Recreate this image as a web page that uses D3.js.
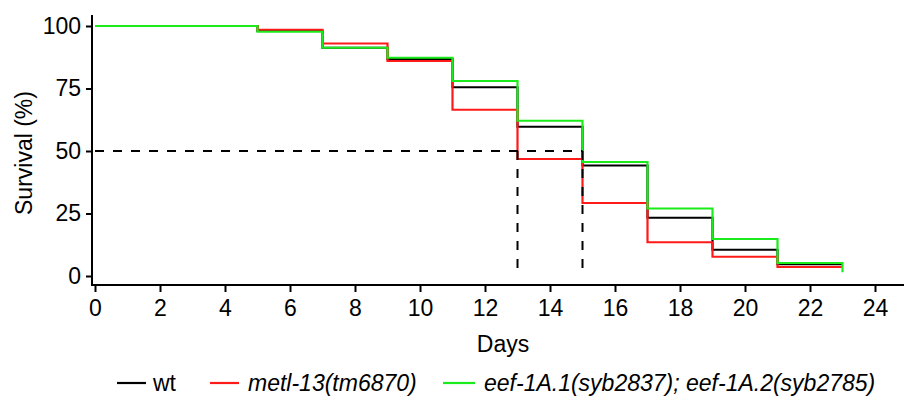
<!DOCTYPE html>
<html>
<head>
<meta charset="utf-8">
<script src="https://cdn.jsdelivr.net/npm/d3@7"></script>
<style>
  body { margin: 0; background: #fff; }
  svg { display: block; font-family: "Liberation Sans", Arial, sans-serif; }
</style>
</head>
<body>
<svg id="chart" width="904" height="396"></svg>
<script>
// time points (days) where survival changes
var days = [0, 5, 7, 9, 11, 13, 15, 17, 19, 21, 23];
// survival (%) for each interval, last value = value at day 23
var wt   = [100, 98.0, 91.3, 86.8, 75.5, 59.7, 44.2, 23.3, 10.5, 4.7, 4.7];
var metl = [100, 98.5, 93.0, 86.0, 66.5, 46.8, 29.2, 13.5, 7.7, 3.6, 3.6];
var eef  = [100, 97.7, 91.3, 87.3, 78.0, 62.1, 45.6, 27.0, 14.8, 5.2, 1.5];

var seriesNames  = ["wt", "metl-13(tm6870)", "eef-1A.1(syb2837); eef-1A.2(syb2785)"];
var seriesColors = ["#000000", "#ff1a1a", "#1aeb1a"];
var xTicks = d3.range(0, 25, 2);
var yTicks = [0, 25, 50, 75, 100];
var medianDays = [13, 15];

var drawChart = function(){
    var svg = d3.select("#chart");

    var x = d3.scaleLinear().domain([0, 24]).range([95, 875]);
    var y = d3.scaleLinear().domain([0, 100]).range([276, 26]);

    // axes
    var yAxis = d3.axisLeft(y).tickValues(yTicks).tickSize(6).tickPadding(5);
    var gy = svg.append("g").attr("transform", "translate(92,0)").call(yAxis);
    gy.select(".domain").remove();

    var xAxis = d3.axisBottom(x).tickValues(xTicks).tickSize(7).tickPadding(8);
    var gx = svg.append("g").attr("transform", "translate(0,285)").call(xAxis);
    gx.select(".domain").remove();

    svg.selectAll(".tick line").attr("stroke", "#000").attr("stroke-width", 2);
    svg.selectAll(".tick text")
        .attr("fill", "#000")
        .style("font-size", "23px")
        .style("font-family", "'Liberation Sans', Arial, sans-serif");

    // axis lines
    svg.append("line").attr("x1", 92).attr("x2", 92).attr("y1", 15).attr("y2", 286)
        .attr("stroke", "#000").attr("stroke-width", 2);
    svg.append("line").attr("x1", 91).attr("x2", 904).attr("y1", 285).attr("y2", 285)
        .attr("stroke", "#000").attr("stroke-width", 2);

    // axis titles
    svg.append("text")
        .attr("transform", "translate(32,153) rotate(-90)")
        .attr("text-anchor", "middle")
        .style("font-size", "23px")
        .text("Survival (%)");
    svg.append("text")
        .attr("x", 503).attr("y", 352)
        .attr("text-anchor", "middle")
        .style("font-size", "23px")
        .text("Days");

    // survival curves
    var line = d3.line()
        .x(function(d){ return x(d[0]); })
        .y(function(d){ return y(d[1]); })
        .curve(d3.curveStepAfter);

    [wt, metl, eef].forEach(function(vals, i){
        var pts = days.map(function(d, j){ return [d, vals[j]]; });
        svg.append("path")
            .datum(pts)
            .attr("d", line)
            .attr("fill", "none")
            .attr("stroke", seriesColors[i])
            .attr("stroke-width", 2.2);
    });

    // median lines
    svg.append("line")
        .attr("x1", x(0)).attr("x2", x(d3.max(medianDays)))
        .attr("y1", y(50)).attr("y2", y(50))
        .attr("stroke", "#000").attr("stroke-width", 2)
        .attr("stroke-dasharray", "9,9");
    svg.selectAll(".median")
        .data(medianDays)
        .enter()
        .append("line")
        .attr("class", "median")
        .attr("x1", function(d){ return x(d); })
        .attr("x2", function(d){ return x(d); })
        .attr("y1", y(50)).attr("y2", y(1))
        .attr("stroke", "#000").attr("stroke-width", 2)
        .attr("stroke-dasharray", "9,9");

    // legend
    var legendX = [117, 210, 443];
    var legend = svg.selectAll(".legend")
        .data(seriesNames)
        .enter()
        .append("g")
        .attr("class", "legend")
        .attr("transform", function(d, i){ return "translate(" + legendX[i] + ",383)"; });
    legend.append("line")
        .attr("x1", 0).attr("x2", function(d, i){ return i == 2 ? 32 : 29; })
        .attr("y1", 0).attr("y2", 0)
        .attr("stroke", function(d, i){ return seriesColors[i]; })
        .attr("stroke-width", 2.2);
    legend.append("text")
        .attr("x", function(d, i){ return i == 2 ? 41 : (i == 0 ? 36 : 38); })
        .attr("y", 8)
        .style("font-size", "23px")
        .style("font-style", function(d, i){ return i == 0 ? "normal" : "italic"; })
        .text(function(d){ return d; });
}

var main = function(){
    drawChart();
}();
</script>
</body>
</html>
